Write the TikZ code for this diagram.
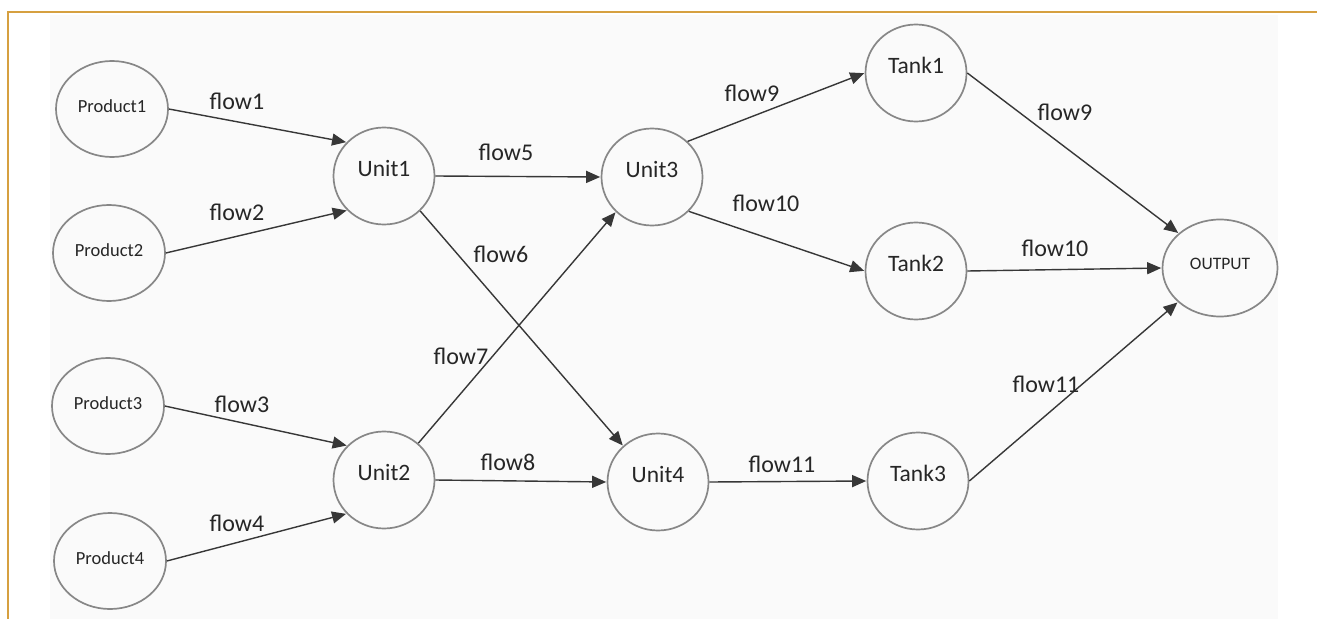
\documentclass[tikz,border=0pt]{standalone}
\usepackage{fontspec}
\setmainfont{Carlito}
\usetikzlibrary{shapes.geometric,arrows.meta}
\definecolor{framecol}{RGB}{214,160,64}
\definecolor{ringcol}{RGB}{135,135,135}
\definecolor{arrowcol}{RGB}{55,55,55}
\definecolor{bgcol}{RGB}{250,250,250}
\tikzset{
  ring/.style={ellipse, draw=ringcol, line width=1.7bp, inner sep=0pt,
    minimum width=101bp, minimum height=97bp,
    font=\fontsize{23.5bp}{26bp}\selectfont, text=black!85, text depth=15bp},
  prod/.style={ring, minimum width=112bp, minimum height=96bp,
    font=\fontsize{18.5bp}{20bp}\selectfont, text depth=6bp},
  outbox/.style={ring, minimum width=115bp, minimum height=97bp,
    font=\fontsize{17.5bp}{20bp}\selectfont, text depth=8bp},
  flowlbl/.style={inner sep=0pt, text=black!85, font=\fontsize{24bp}{26bp}\selectfont},
  flowarrow/.style={draw=arrowcol, line width=1.4bp,
    -{Triangle[length=14bp,width=12bp]}, shorten >=0.5bp}
}
\begin{document}
\begin{tikzpicture}[x=1bp,y=-1bp]
\useasboundingbox (0,0) rectangle (1317,619);
\fill[white] (0,0) rectangle (1317,619);
\fill[bgcol] (50,15) rectangle (1278,619);
\draw[framecol, line width=2bp] (8,619) -- (8,12) -- (1317,12);

% nodes
\node[prod] (p1) at (112,109) {Product1};
\node[prod] (p2) at (109,253) {Product2};
\node[prod] (p3) at (108,406) {Product3};
\node[prod] (p4) at (110,561) {Product4};
\node[ring] (u1) at (384,176) {Unit1};
\node[ring] (u2) at (384,480) {Unit2};
\node[ring] (u3) at (652,177) {Unit3};
\node[ring] (u4) at (658,482) {Unit4};
\node[ring] (t1) at (916,73) {Tank1};
\node[ring] (t2) at (916,271) {Tank2};
\node[ring] (t3) at (918,481) {Tank3};
\node[outbox] (out) at (1220,268) {OUTPUT};

% connectors
\draw[flowarrow] (p1.east) -- (u1.138);
\draw[flowarrow] (p2.east) -- (u1.223);
\draw[flowarrow] (p3.east) -- (u2.137);
\draw[flowarrow] (p4.east) -- (u2.222);
\draw[flowarrow] (u1.east) -- (u3.west);
\draw[flowarrow] (u1.316) -- (u4.134);
\draw[flowarrow] (u2.47) -- (u3.224);
\draw[flowarrow] (u2.east) -- (u4.west);
\draw[flowarrow] (u3.45) -- (t1.west);
\draw[flowarrow] (u3.317) -- (t2.west);
\draw[flowarrow] (u4.east) -- (t3.west);
\draw[flowarrow] (t1.east) -- (out.140);
\draw[flowarrow] (t2.east) -- (out.west);
\draw[flowarrow] (t3.east) -- (out.219);

% labels
\node[flowlbl] (l1) at (237,101) {flow1};
\node[flowlbl] (l2) at (237,212) {flow2};
\node[flowlbl] (l3) at (242,404) {flow3};
\node[flowlbl] (l4) at (237,523) {flow4};
\node[flowlbl] (l5) at (506,152) {flow5};
\node[flowlbl] (l6) at (501,254) {flow6};
\node[flowlbl] (l7) at (461,356) {flow7};
\node[flowlbl] (l8) at (508,462) {flow8};
\node[flowlbl] (l9a) at (752,93) {flow9};
\node[flowlbl] (l10a) at (766,203) {flow10};
\node[flowlbl] (l11a) at (782,464) {flow11};
\node[flowlbl] (l9b) at (1065,112) {flow9};
\node[flowlbl] (l10b) at (1055,248) {flow10};
\node[flowlbl] (l11b) at (1046,384) {flow11};
\end{tikzpicture}
\end{document}
